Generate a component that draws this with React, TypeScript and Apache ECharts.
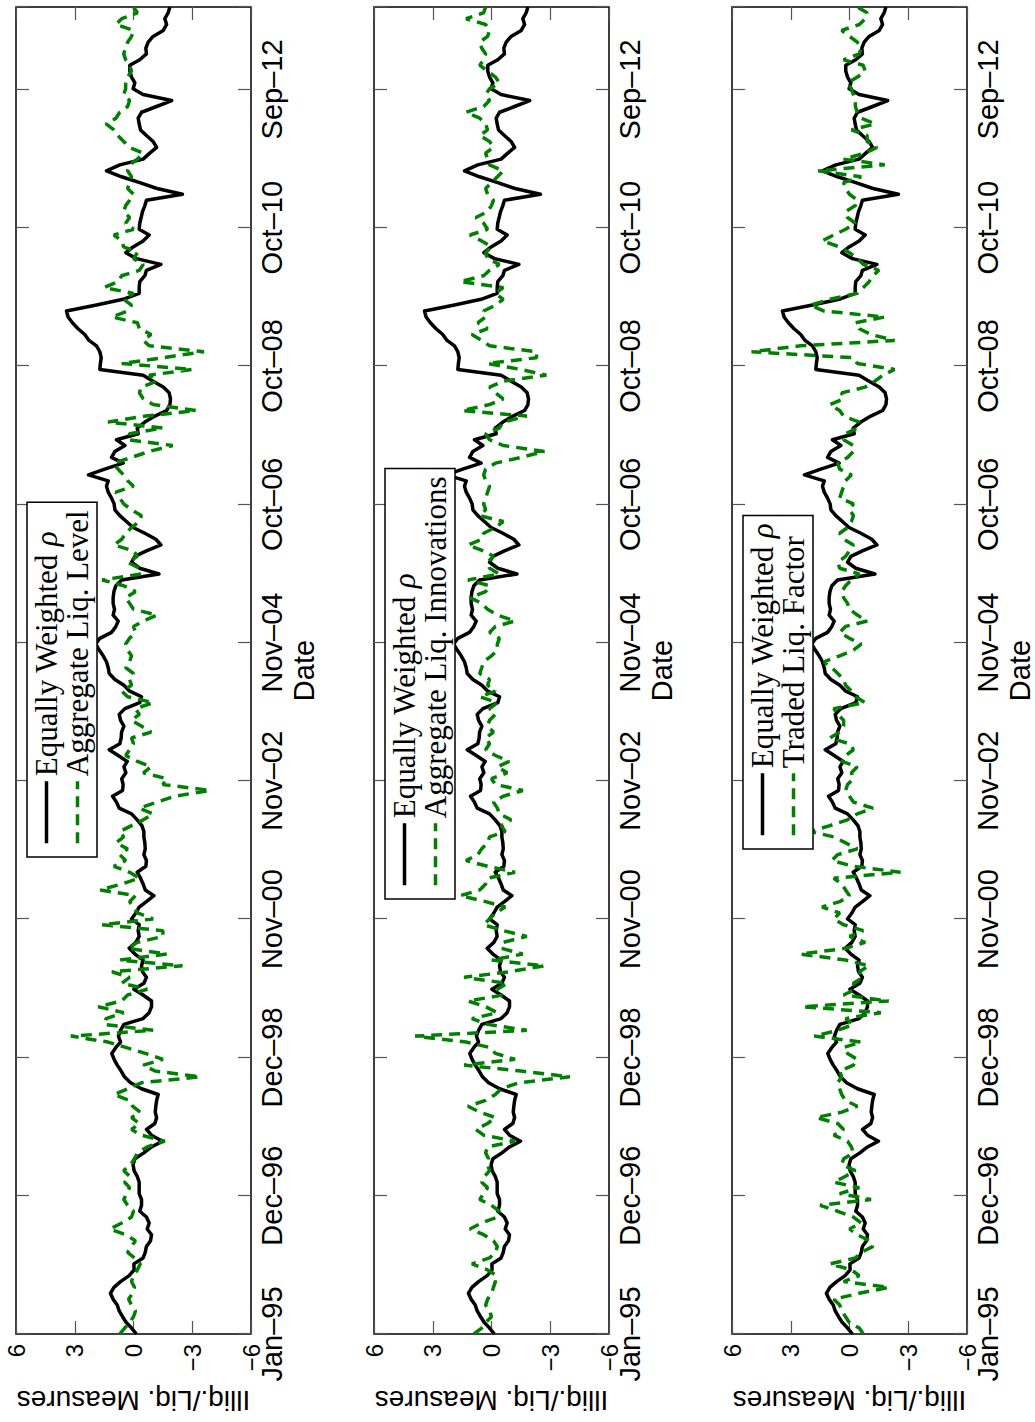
import React, { useEffect, useRef } from "react";
import * as echarts from "echarts";

// Date-axis tick labels (ticks every 720 days from 1 Jan 1995)
const dateTickLabels = ["Jan–95", "Dec–96", "Dec–98", "Nov–00", "Nov–02", "Nov–04", "Oct–06", "Oct–08", "Oct–10", "Sep–12"];
const blackName = "Equally Weighted ρ";
const greenNames = ["Aggregate Liq. Level", "Aggregate Liq. Innovations", "Traded Liq. Factor"];

// Monthly values, Jan 1995 .. Dec 2013
const eqWeighted = [
  -0.15, 0.1, 0.36, 0.56, 0.73, 0.83, 1.04, 1.18, 1.0, 0.66,
  0.22, -0.03, -0.02, -0.49, -0.6, -0.66, -0.87, -0.92, -0.7, -0.8,
  -0.66, -0.32, -0.41, -0.41, -0.29, -0.29, -0.29, -0.19, -0.03, 0.02,
  -0.07, -0.53, -0.92, -1.48, -0.92, -0.66, -1.09, -1.18, -1.11, -1.14,
  -1.18, -1.26, -0.41, 0.15, 0.46, 0.63, 0.83, 0.99, 1.11, 0.9,
  0.66, 0.77, 0.66, 0.49, -0.49, -0.8, -0.92, -0.92, -0.49, -0.02,
  -0.53, -0.66, -0.46, -0.41, -0.49, -0.07, 0.22, -0.12, -0.29, -0.24,
  -0.29, 0.1, -0.12, -0.29, -0.66, -1.04, -0.6, -0.49, -0.36, -0.19,
  -0.63, -0.66, -0.53, -0.6, -0.58, -0.53, -0.53, -0.43, -0.19, 0.1,
  0.73, 0.87, 1.07, 0.56, 0.53, 0.6, 0.39, 0.49, 0.32, 0.78,
  1.24, 0.7, 0.63, 0.61, 0.49, 0.66, 0.73, 0.44, -0.32, -0.41,
  0.19, 0.49, 0.95, 1.24, 1.29, 1.38, 1.55, 1.75, 1.93, 1.72,
  1.12, 0.9, 0.78, 1.04, 0.97, 1.04, 1.04, 1.0, 0.9, 0.61,
  -1.3, -0.32, 0.1, -0.07, -0.66, -1.4, -1.14, -0.58, 0.02, 0.36,
  0.7, 0.95, 0.99, 1.12, 1.29, 1.38, 1.29, 2.3, 1.47, 0.53,
  1.12, 0.95, 0.44, 0.87, -0.24, -0.19, -0.58, -1.09, -1.69, -1.86,
  -1.89, -1.82, -1.52, -1.0, -0.49, 1.72, 1.69, 1.65, 1.72, 1.89,
  2.27, 2.49, 2.83, 3.12, 3.34, 3.42, 1.89, 0.53, -0.29, -0.29,
  -0.32, -0.58, -0.66, -1.4, -0.15, 0.39, 0.02, -0.49, -0.8, -0.29,
  -0.32, -0.39, -0.46, -0.58, -0.66, -2.5, -1.2, -0.32, 0.61, 1.38,
  0.7, -0.49, -0.83, -1.18, -1.0, -0.66, -0.36, -0.29, -0.24, -0.41,
  -1.18, -1.95, -0.49, 0.02, -0.07, 0.1, 0.19, 0.19, -0.32, -0.66,
  -0.63, -0.75, -1.0, -1.52, -1.69, -1.6, -1.77, -1.86,
];

const liqLevel = [
  0.7, 0.45, 0.2, 0.0, -0.1, 0.1, 0.25, 0.05, -0.05, 0.1,
  0.0, -0.2, -0.35, -0.05, 0.3, 0.1, -0.1, 0.4, 1.2, 0.6,
  0.1, 0.0, 0.3, 0.5, 0.35, 0.2, 0.45, 0.2, 0.5, 0.15,
  -0.05, -0.2, -0.7, -1.6, -0.4, 0.1, -0.3, 0.1, -0.35, 0.05,
  0.2, 1.0, 0.3, -0.4, -3.4, -1.1, -0.5, -1.5, -0.6, 0.4,
  1.3, 3.2, -1.0, 1.5, 1.4, 0.5, 1.8, 0.6, 0.3, -0.7,
  0.6, 0.2, 1.1, -2.5, 0.7, -1.7, 0.3, -0.2, -1.5, -1.5,
  1.6, -1.0, -0.2, 0.0, 0.2, -0.1, 1.7, 0.6, -0.3, 0.2,
  1.0, 0.4, 0.7, 0.3, 0.9, 0.5, 0.7, 0.1, -0.5, -1.0,
  -0.3, -1.2, -2.1, -3.9, -1.5, -1.7, -0.5, -0.9, -0.2, 0.4,
  0.2, 0.0, 0.1, -0.9, -0.4, 0.1, -0.3, -0.1, -1.0, 0.3,
  0.6, 0.1, 0.2, 0.0, 0.4, 0.2, 0.1, 0.3, 0.4, 0.2,
  -0.1, 0.0, -0.5, -1.2, 0.0, 0.2, 0.4, -0.1, 0.5, 1.6,
  -0.4, -0.3, 0.3, -0.2, 0.0, 1.0, 0.6, 0.4, 0.1, -0.3,
  -0.4, 0.1, 0.5, 0.7, 0.9, 0.0, 0.3, 0.5, 0.8, 1.0,
  0.1, -0.8, -2.0, 0.3, 0.2, -1.5, 1.3, -0.6, -3.2, -1.0,
  -0.5, -0.3, -0.4, -1.2, -0.8, -3.0, 0.6, -1.5, -3.6, -0.8,
  -0.5, -0.9, -0.3, -0.2, 1.1, 0.3, 0.1, 0.5, 0.0, 1.5,
  0.8, 0.6, -0.3, -0.5, 0.0, -0.2, 0.5, 0.6, 1.0, 0.0,
  0.4, 0.2, 0.5, 0.4, 0.2, 0.0, 0.3, 0.2, 0.1, 0.3,
  0.2, -0.2, -0.5, 0.2, 0.5, 0.8, 1.0, 1.4, 0.9, 0.7,
  0.3, 0.2, 0.5, 0.4, 0.4, 0.3, 0.1, 0.2, 0.4, 0.5,
  0.4, 0.3, 0.1, 0.0, 0.9, 0.6, -0.2, 0.0,
];

const liqInnov = [
  0.9, 0.5, 0.3, 0.0, 0.1, 0.3, 0.2, 0.0, -0.1, -0.2,
  -0.25, 0.2, 1.0, 0.1, -0.2, -0.3, -0.1, 0.4, 1.1, 0.5,
  -0.3, -0.4, 0.0, 0.6, 0.4, 0.2, 0.5, 0.35, 0.1, 0.2,
  0.15, 0.3, 0.2, -1.2, 0.4, 0.8, 0.2, -0.2, 0.6, 1.2,
  0.3, -0.2, -0.5, -1.4, -4.0, -1.5, 1.4, -1.2, -0.2, 0.1,
  1.3, 3.9, -1.8, 0.2, 1.0, -0.3, 0.3, 1.2, -0.6, -0.3,
  -0.8, 1.4, -0.9, -2.7, 0.0, -1.6, -0.5, -0.6, -1.8, -0.6,
  0.4, 0.1, -0.2, -0.7, 0.3, 1.6, 0.6, 0.3, 0.2, -1.2,
  0.2, 1.3, 0.7, 0.5, 0.2, 0.1, -0.7, -0.5, -1.0, -0.4,
  -0.3, -0.1, -0.6, -1.6, -0.2, 0.0, -0.8, -0.3, -0.9, -0.2,
  0.3, 0.1, 0.3, -0.1, 0.2, 0.1, -0.2, 0.1, -0.3, 0.6,
  -0.2, 0.2, 0.1, 0.6, 0.5, 0.4, 0.0, -0.3, -0.3, -0.4,
  0.1, -0.2, -1.2, -0.3, 0.2, 0.5, 1.1, 0.3, 0.1, 1.2,
  -0.4, 0.1, 0.2, -0.1, 0.4, 1.2, 0.5, 0.4, -0.2, -0.6,
  0.6, 0.3, 0.4, 0.3, 0.2, 0.1, 0.3, 0.4, 0.3, -0.2,
  -1.5, -2.7, -0.6, 0.1, 0.3, -0.4, -0.6, -1.8, 1.5, 0.1,
  -0.6, -0.2, 0.1, -0.6, -2.8, -1.5, 0.2, -2.3, -2.3, 0.1,
  0.5, 1.0, 0.2, 0.7, 0.3, 0.4, -0.2, -0.6, -0.2, -0.6,
  1.6, 0.4, 0.1, -0.4, 0.2, 0.3, 0.0, 0.5, 1.1, 0.2,
  0.4, 0.8, 0.2, 0.0, -0.1, 0.2, 0.3, 0.0, -0.3, -0.6,
  0.1, 0.2, 0.3, -0.1, 0.1, 0.6, 0.2, 0.3, 0.6, 1.3,
  0.4, 0.1, 0.3, 0.1, -0.4, -0.2, 0.2, 0.6, 0.4, 0.3,
  0.5, 0.6, 0.2, 0.1, 0.3, 1.3, 0.4, 0.3,
];

const liqTraded = [
  -0.7, -0.5, 0.0, 0.2, 0.4, 0.5, 0.8, -0.5, -2.0, 0.3,
  -0.5, -0.1, 1.0, -0.3, -0.6, -1.2, -1.0, -0.4, 0.0, -0.6,
  -0.2, 0.6, 1.5, -1.1, 0.5, -0.5, 0.8, 0.2, -0.3, 0.4,
  0.3, -0.2, -0.1, 0.1, 0.8, 0.3, 0.6, 1.7, 0.4, -0.4,
  0.2, 0.4, 0.5, 0.6, 0.4, 0.5, -0.2, -0.4, 0.1, 0.3,
  -0.6, 1.8, 0.6, -0.2, 0.2, -1.6, 2.4, -2.0, 0.3, -0.3,
  -0.2, -0.7, -0.5, -1.0, 0.2, 2.5, 0.2, -0.8, 0.0, -0.7,
  0.3, 0.8, 0.5, 1.4, 0.5, 0.0, 0.2, 0.4, 0.8, -2.6,
  -0.2, 0.9, 0.6, -0.4, 0.2, 0.8, 2.0, 1.0, 0.1, -0.4,
  -1.2, -0.2, 0.0, 0.2, 0.1, -0.2, -0.1, -0.4, 0.4, 0.2,
  -0.2, 0.0, 1.0, 0.5, 0.3, 0.3, 0.6, 0.8, -0.8, -0.3,
  -0.1, 0.2, 0.3, 0.6, 0.9, 1.3, 0.5, -0.2, -0.6, 0.0,
  0.5, 0.2, -0.9, -0.4, 0.0, 0.1, 0.3, 0.4, 0.2, -0.1,
  -0.5, 0.5, 0.6, 0.2, 0.0, -0.2, 0.3, 0.5, 0.1, -0.1,
  -0.2, 0.0, -0.2, 0.5, 0.4, 0.3, 0.2, -0.1, 0.5, 0.6,
  0.1, -0.2, -0.2, 0.3, 0.2, -0.4, -0.5, 0.3, 0.5, 1.0,
  0.3, 0.4, -0.8, -1.3, -1.7, -2.3, -0.4, -0.2, 5.0, 2.5,
  -2.3, -1.1, -0.5, -0.3, -1.8, 1.3, 2.0, 1.0, -0.4, -0.7,
  -1.0, -1.2, -1.5, -0.7, -0.4, 0.0, 0.5, 1.4, 0.8, 0.2,
  -0.3, 0.1, 0.2, -0.3, -0.4, 0.0, 0.2, 0.3, -0.6, 1.6,
  -1.8, 0.3, -0.8, -1.4, -0.9, -0.9, -0.1, -1.3, -0.6, -0.4,
  -0.3, -0.3, -0.2, -0.1, 0.1, -0.4, -0.8, -0.7, 0.3, -0.5,
  -0.6, -0.4, 0.0, 0.4, -0.5, -0.8, -0.9, -0.4,
];

const greenSeries = [liqLevel, liqInnov, liqTraded];

const W = 1422;
const H = 1035;
const gridTops = [16, 374, 732];
const legendLefts = [565, 523, 573];
const SANS = "'Liberation Sans', Arial, Helvetica, sans-serif";
const SERIF = "'Liberation Serif', 'Times New Roman', serif";

export default function App() {
  const ref = useRef<HTMLDivElement>(null);

  useEffect(() => {
    document.body.style.margin = "0";
    const chart = echarts.init(ref.current!, null, { renderer: "svg" });
    const day0 = Date.UTC(1995, 0, 1);
    const days = eqWeighted.map((_, m) => (Date.UTC(1995, m, 1) - day0) / 86400000);
    const xMax = days[days.length - 1];

    const grids: any[] = [];
    const xAxes: any[] = [];
    const yAxes: any[] = [];
    const series: any[] = [];
    const legends: any[] = [];

    const tick = { inside: true, length: 13, lineStyle: { color: "#555", width: 1.2 } };
    const noLine = { show: false, onZero: false };

    gridTops.forEach((top, i) => {
      grids.push({
        left: 80,
        right: 7,
        top,
        height: 235,
        show: true,
        borderColor: "#000",
        borderWidth: 1.5,
        backgroundColor: "transparent",
      });
      const xBase = {
        gridIndex: i,
        type: "value",
        min: 0,
        max: xMax,
        interval: 720,
        axisLine: noLine,
        axisTick: tick,
        splitLine: { show: false },
      };
      xAxes.push({
        ...xBase,
        position: "bottom",
        axisLabel: {
          fontSize: 29,
          fontFamily: SANS,
          color: "#000",
          margin: 6,
          formatter: (v: number) => (v % 720 === 0 ? dateTickLabels[v / 720] || "" : ""),
        },
        name: "Date",
        nameLocation: "middle",
        nameGap: 38,
        nameTextStyle: { fontSize: 29, fontFamily: SANS, color: "#000" },
      });
      xAxes.push({ ...xBase, position: "top", axisLabel: { show: false } });

      const yBase = {
        gridIndex: i,
        type: "value",
        min: -6,
        max: 6,
        interval: 3,
        axisLine: noLine,
        axisTick: tick,
        splitLine: { show: false },
      };
      yAxes.push({
        ...yBase,
        position: "left",
        axisLabel: {
          fontSize: 24,
          fontFamily: SANS,
          color: "#000",
          margin: 10,
          formatter: (v: number) => (v < 0 ? "−" + Math.abs(v) : String(v)),
        },
        name: "Illiq./Liq. Measures",
        nameLocation: "middle",
        nameRotate: 90,
        nameGap: 52,
        nameTextStyle: { fontSize: 28, fontFamily: SANS, color: "#000" },
      });
      yAxes.push({ ...yBase, position: "right", axisLabel: { show: false } });

      series.push({
        type: "line",
        name: blackName,
        xAxisIndex: 2 * i,
        yAxisIndex: 2 * i,
        data: days.map((d, m) => [d, eqWeighted[m]]),
        symbol: "none",
        lineStyle: { color: "#000", width: 3.5, join: "round" },
        itemStyle: { color: "#000" },
        z: 2,
      });
      series.push({
        type: "line",
        name: greenNames[i],
        xAxisIndex: 2 * i,
        yAxisIndex: 2 * i,
        data: days.map((d, m) => [d, greenSeries[i][m]]),
        symbol: "none",
        lineStyle: { color: "#008000", width: 3.5, type: [11, 7] },
        itemStyle: { color: "#008000" },
        z: 3,
      });

      legends.push({
        orient: "vertical",
        left: legendLefts[i],
        top: top + 11,
        data: [blackName, greenNames[i]],
        selectedMode: false,
        backgroundColor: "#fff",
        borderColor: "#000",
        borderWidth: 1.5,
        borderRadius: 0,
        padding: [4, 8, 4, 12],
        itemGap: 0,
        itemWidth: 62,
        itemHeight: 20,
        itemStyle: { opacity: 0, borderWidth: 0 },
        lineStyle: { width: 3.5 },
        formatter: (name: string) =>
          name.endsWith("ρ") ? `{n|${name.slice(0, -1)}}{g|ρ}` : `{n|${name}}`,
        textStyle: {
          color: "#000",
          fontFamily: SERIF,
          fontSize: 31,
          lineHeight: 28,
          rich: {
            n: { fontFamily: SERIF, fontSize: 31, color: "#000", lineHeight: 28 },
            g: { fontFamily: SERIF, fontSize: 31, fontStyle: "italic", color: "#000", lineHeight: 28 },
          },
        },
      });
    });

    chart.setOption({
      animation: false,
      backgroundColor: "#fff",
      grid: grids,
      xAxis: xAxes,
      yAxis: yAxes,
      series,
      legend: legends,
    });
    return () => chart.dispose();
  }, []);

  return (
    <div
      style={{
        position: "absolute",
        left: 0,
        top: 0,
        width: H,
        height: W,
        overflow: "hidden",
        background: "#fff",
      }}
    >
      <div
        ref={ref}
        style={{
          position: "absolute",
          left: 0,
          top: 0,
          width: W,
          height: H,
          transformOrigin: "0 0",
          transform: `translateY(${W}px) rotate(-90deg)`,
        }}
      />
    </div>
  );
}
